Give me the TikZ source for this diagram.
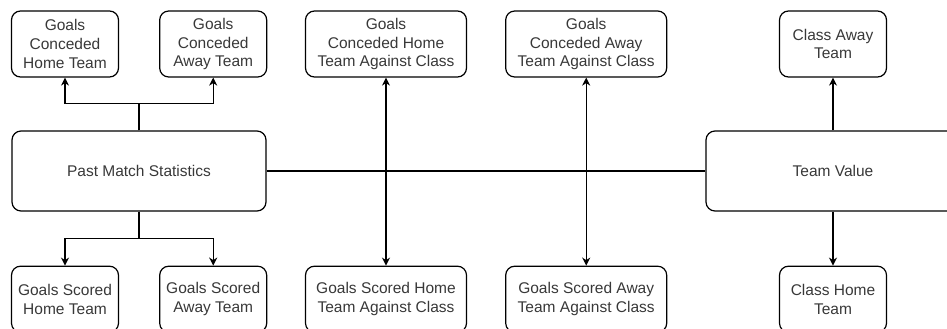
\documentclass[tikz,border=0pt]{standalone}
\usepackage{fontspec}
\setmainfont{Liberation Sans}
\usetikzlibrary{positioning}
\usetikzlibrary{arrows.meta}
\tikzset{%
	% Specifications for style of nodes:
	base/.style = {rectangle, rounded corners=9pt, draw=black, line width=1.2pt,
		inner sep=0pt, align=center, text=black!78,
		font=\fontsize{15.5pt}{18.6pt}\selectfont},
	statBox/.style = {base, minimum width=107pt, minimum height=66pt},
	classBox/.style = {base, minimum width=161pt, minimum height=66pt},
	mainBox/.style = {base, minimum width=254pt, minimum height=80pt},
}

\begin{document}
\begin{tikzpicture}[>={Stealth[length=8pt, width=8pt, inset=2.5pt]},
	line width=1.3pt]
	\useasboundingbox (0,0) rectangle (947pt,-329pt);
	
	% main boxes
	\node (pms) [mainBox] at (139pt,-171pt) {Past Match Statistics};
	\node (tv) [mainBox] at (833pt,-171pt) {Team Value};
	
	% past match statistics
	\node (gcht) [statBox] at (65pt,-44pt) {Goals\\Conceded\\Home Team};
	\node (gcat) [statBox, right=40pt of gcht] {Goals\\Conceded\\Away Team};
	\node (gsht) [statBox, below=188pt of gcht] {Goals Scored\\Home Team};
	\node (gsat) [statBox, below=188pt of gcat] {Goals Scored\\Away Team};
	
	% against class
	\node (gchtac) [classBox] at (386pt,-44pt) {Goals\\Conceded Home\\Team Against Class};
	\node (gcatac) [classBox, right=38pt of gchtac] {Goals\\Conceded Away\\Team Against Class};
	\node (gshtac) [classBox, below=188pt of gchtac] {Goals Scored Home\\Team Against Class};
	\node (gsatac) [classBox, below=188pt of gcatac] {Goals Scored Away\\Team Against Class};
	
	% team value
	\node (cat) [statBox] at (833pt,-44pt) {Class Away\\Team};
	\node (cht) [statBox, below=188pt of cat] {Class Home\\Team};
	
	\draw[->] (pms.north) -- ++(0,27pt) -| (gcht.south);
	\draw[->] (pms.north) -- ++(0,27pt) -| (gcat.south);
	\draw[->] (pms.south) -- ++(0,-27pt) -| (gsht.north);
	\draw[->] (pms.south) -- ++(0,-27pt) -| (gsat.north);
	\draw (pms.east) -- (tv.west);
	\draw[<->] (gchtac.south) -- (gshtac.north);
	\draw[<->] (gcatac.south) -- (gsatac.north);
	\draw[->] (tv.north) -- (cat.south);
	\draw[->] (tv.south) -- (cht.north);
\end{tikzpicture}
\end{document}
